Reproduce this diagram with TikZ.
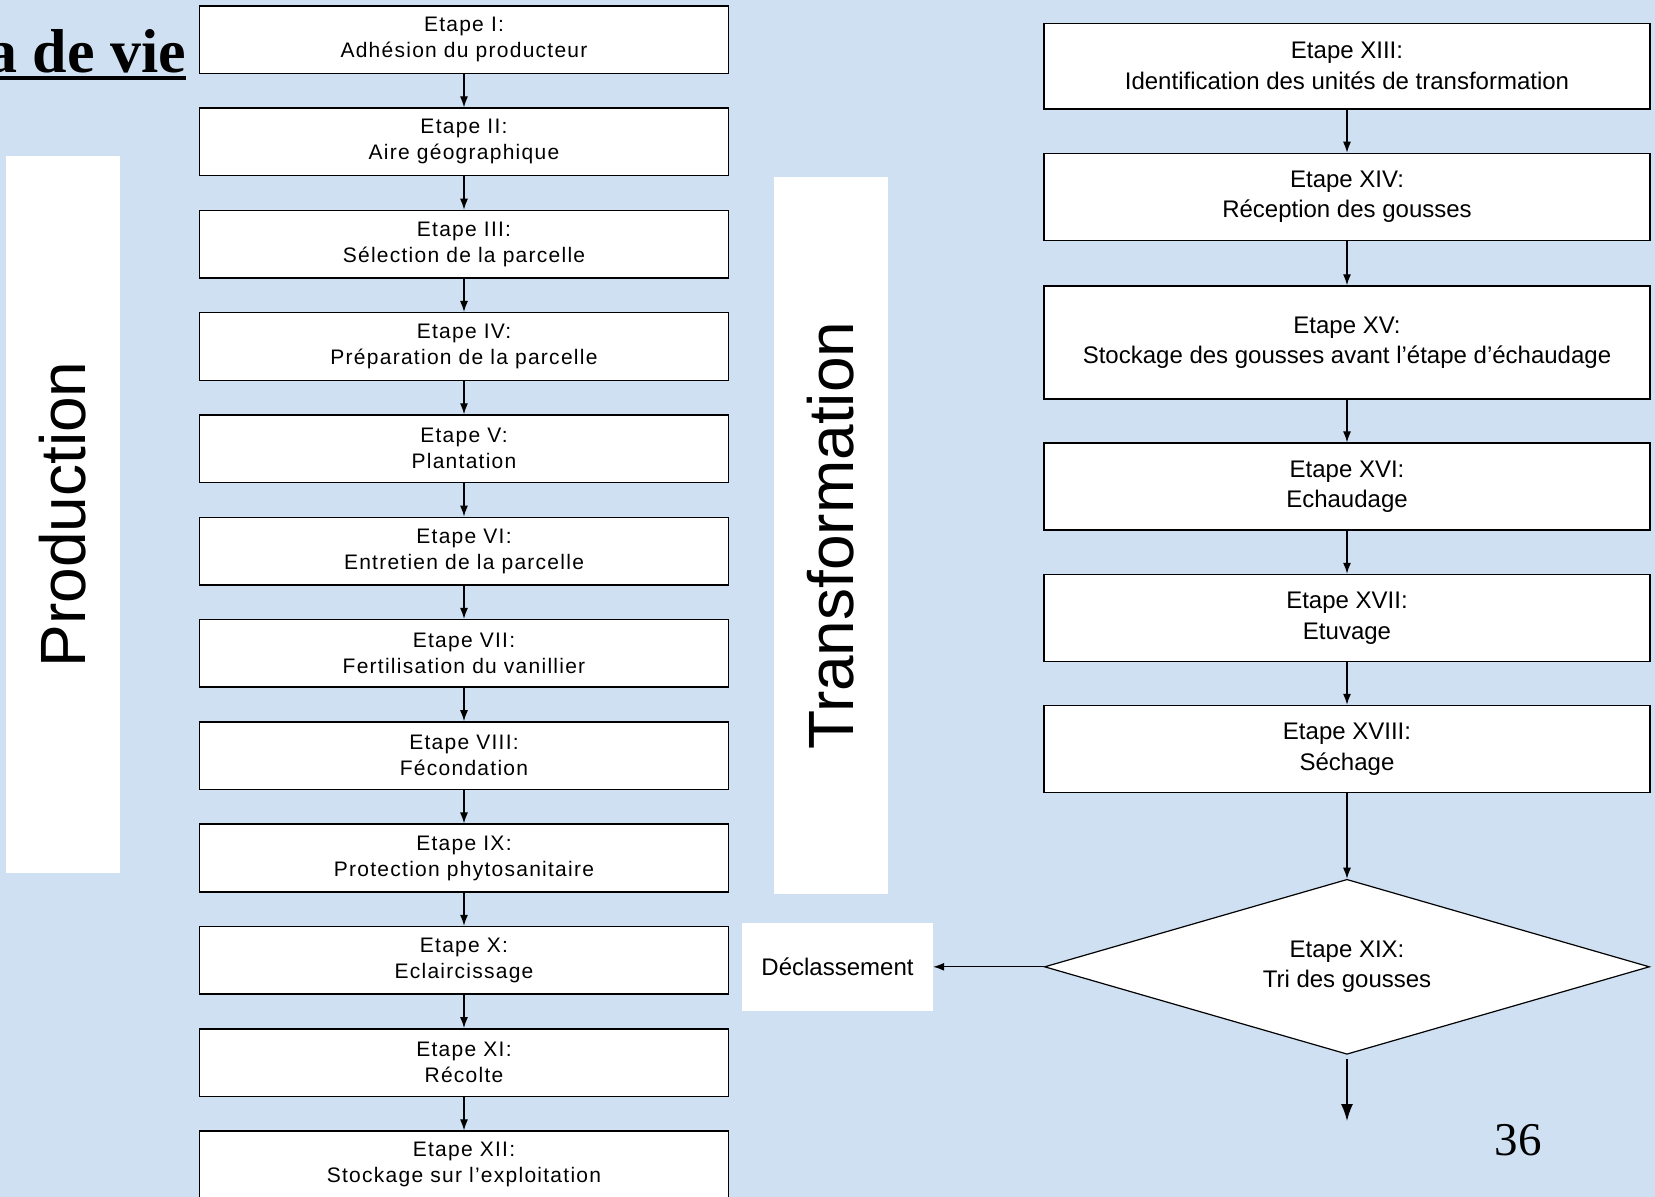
\documentclass[tikz,border=0pt]{standalone}
\usepackage{fontspec}
\setmainfont{Liberation Sans}
\newfontfamily\timesfont{Liberation Serif}
\newfontfamily\spacedfont[LetterSpace=6]{Liberation Sans}
\usetikzlibrary{shapes.geometric,arrows.meta}
\definecolor{bgblue}{RGB}{206,224,242}

\begin{document}
\begin{tikzpicture}[x=1pt,y=-1pt,
    prodstep/.style={draw,fill=white,line width=1.5pt,inner sep=0pt,
      minimum width=529pt,minimum height=67.6pt,align=center,
      font=\spacedfont\fontsize{21}{26}\selectfont},
    transstep/.style={draw,fill=white,line width=1.5pt,inner sep=0pt,
      minimum width=606pt,minimum height=87pt,align=center,
      font=\fontsize{24}{30.5}\selectfont},
    decision/.style={diamond,draw,fill=white,line width=1.2pt,inner sep=0pt,
      shape aspect=3.46,minimum width=605pt,minimum height=175pt,align=center,
      font=\fontsize{24}{30.5}\selectfont},
    phase/.style={fill=white,inner sep=0pt,minimum width=114pt,minimum height=717pt},
    phasetext/.style={rotate=90,font=\fontsize{64}{64}\selectfont},
    flow/.style={line width=1.2pt,-{Latex[length=11pt,width=8pt]}},
    bigflow/.style={line width=1.5pt,-{Latex[length=17pt,width=12pt]}}]
  \useasboundingbox (0,0) rectangle (1655,1197);
  \fill[bgblue] (0,0) rectangle (1655,1197);

  \node[anchor=base east,inner sep=0pt,font=\timesfont\bfseries\fontsize{62}{62}\selectfont]
    (title) at (186,72) {a de vie};
  \draw[line width=4pt] ([yshift=-6pt]title.base west) -- ([yshift=-6pt]title.base east);

  \node[phase] (prod) at (62.8,514.5) {};
  \node[phasetext] (prodtext) at (prod) {Production};
  \node[phase] (trans) at (830.7,535.7) {};
  \node[phasetext] (transtext) at (trans) {Transformation};

  \draw
    (464,39.6) node[prodstep] (1) {Etape I:\\Adhésion du producteur}
    (464,141.9) node[prodstep] (2) {Etape II:\\Aire géographique}
    (464,244.2) node[prodstep] (3) {Etape III:\\Sélection de la parcelle}
    (464,346.5) node[prodstep] (4) {Etape IV:\\Préparation de la parcelle}
    (464,448.8) node[prodstep] (5) {Etape V:\\Plantation}
    (464,551.1) node[prodstep] (6) {Etape VI:\\Entretien de la parcelle}
    (464,653.4) node[prodstep] (7) {Etape VII:\\Fertilisation du vanillier}
    (464,755.7) node[prodstep] (8) {Etape VIII:\\Fécondation}
    (464,858.0) node[prodstep] (9) {Etape IX:\\Protection phytosanitaire}
    (464,960.3) node[prodstep] (10) {Etape X:\\Eclaircissage}
    (464,1062.6) node[prodstep] (11) {Etape XI:\\Récolte}
    (464,1164.9) node[prodstep] (12) {Etape XII:\\Stockage sur l’exploitation};

  \draw
    (1347,66) node[transstep,minimum height=85.5pt] (13) {Etape XIII:\\Identification des unités de transformation}
    (1347,196.9) node[transstep] (14) {Etape XIV:\\Réception des gousses}
    (1347,342.5) node[transstep,minimum height=113pt] (15) {Etape XV:\\Stockage des gousses avant l’étape d’échaudage}
    (1347,486.6) node[transstep] (16) {Etape XVI:\\Echaudage}
    (1347,618) node[transstep] (17) {Etape XVII:\\Etuvage}
    (1347,749) node[transstep] (18) {Etape XVIII:\\Séchage}
    (1347,966.8) node[decision] (19) {Etape XIX:\\Tri des gousses};

  \node[fill=white,inner sep=0pt,minimum width=191pt,minimum height=87.6pt,
    font=\fontsize{24}{30.5}\selectfont] (decl) at (837.5,966.8) {Déclassement};
  \coordinate (end) at (1347,1121);

  \node[font=\timesfont\fontsize{47}{47}\selectfont] (page) at (1518,1140) {36};

  \begin{scope}[flow]
    \draw (1) to (2);
    \draw (2) to (3);
    \draw (3) to (4);
    \draw (4) to (5);
    \draw (5) to (6);
    \draw (6) to (7);
    \draw (7) to (8);
    \draw (8) to (9);
    \draw (9) to (10);
    \draw (10) to (11);
    \draw (11) to (12);
    \draw (13) to (14);
    \draw (14) to (15);
    \draw (15) to (16);
    \draw (16) to (17);
    \draw (17) to (18);
    \draw (18) to (19);
    \draw (19) to (decl);
  \end{scope}
  \draw[bigflow,shorten <=4pt] (19) to (end);
\end{tikzpicture}
\end{document}
